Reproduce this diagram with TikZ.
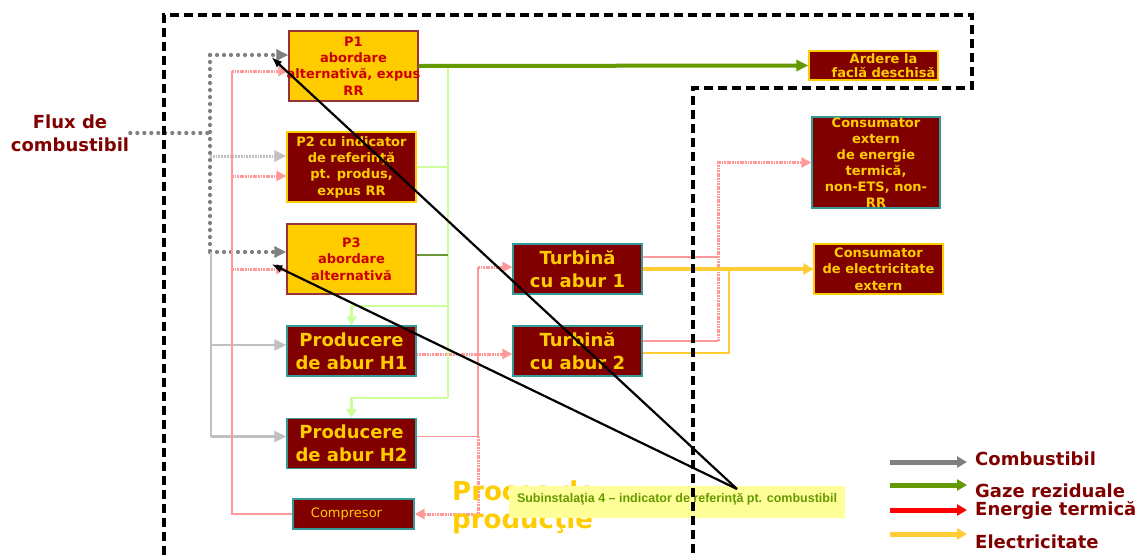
\documentclass[tikz,border=0pt]{standalone}
\usepackage{fontspec}
\setmainfont{DejaVu Sans}
\newfontfamily\notefont{Liberation Sans}
\usetikzlibrary{arrows.meta}
\usetikzlibrary{calc}

\definecolor{boxred}{HTML}{800000}
\definecolor{boxgold}{HTML}{FFCC00}
\definecolor{textred}{HTML}{CC0000}
\definecolor{edgered}{HTML}{993333}
\definecolor{edgeteal}{HTML}{339999}
\definecolor{heatpink}{HTML}{FF9999}
\definecolor{fuelgray}{HTML}{808080}
\definecolor{fuellight}{HTML}{C0C0C0}
\definecolor{gasgreen}{HTML}{669900}
\definecolor{residgreen}{HTML}{CCFF99}
\definecolor{residdark}{HTML}{669933}
\definecolor{elecyellow}{HTML}{FFCC33}
\definecolor{notefill}{HTML}{FFFF99}
\definecolor{heatred}{HTML}{FF0000}

\tikzset{
  boxbase/.style={line width=1.3pt, inner sep=0pt, align=center, font=\bfseries\fontsize{13}{16.3}\selectfont},
  altbox/.style={boxbase, draw=edgered, fill=boxgold, text=textred, minimum width=129pt, minimum height=70pt},
  refbox/.style={boxbase, draw=boxgold, fill=boxred, text=boxgold, minimum width=129pt, minimum height=70pt},
  unitbox/.style={boxbase, draw=edgeteal, fill=boxred, text=boxgold, minimum width=129pt, minimum height=50pt, font=\bfseries\fontsize{18}{23}\selectfont},
  outbox/.style={boxbase, fill=boxred, text=boxgold},
  fuel/.style={fuelgray, line width=4.2pt, line cap=round, dash pattern=on 0pt off 7pt},
  fuelfaint/.style={fuellight, line width=3pt, dash pattern=on 1.8pt off 1pt},
  fuelsolid/.style={fuellight, line width=2.3pt},
  fuelarrow/.style={-{Triangle[length=12pt,width=11pt]}},
  heatline/.style={heatpink, line width=1.8pt},
  heatdot/.style={heatpink, line width=3pt, dash pattern=on 1.8pt off 0.8pt},
  heatarrow/.style={-{Triangle[length=10pt,width=10pt]}},
  gas/.style={gasgreen, line width=4pt, -{Triangle[length=12pt,width=11pt]}},
  resid/.style={residgreen, line width=2.3pt},
  residarrow/.style={-{Triangle[length=9pt,width=10pt]}},
  elec/.style={elecyellow, line width=4.5pt, -{Triangle[length=10pt,width=11pt]}},
  electhin/.style={elecyellow, line width=1.8pt},
  boundary/.style={line width=3.3pt, dash pattern=on 9pt off 5pt},
  pointer/.style={black, line width=2.2pt, -{Latex[length=11pt,width=8pt]}},
  legendtext/.style={text=boxred, font=\bfseries\fontsize{18}{22}\selectfont, inner sep=0pt},
}

\begin{document}
\begin{tikzpicture}[x=1pt,y=-1pt]
\useasboundingbox (0,0) rectangle (1141,555);

% sub-installations
\node[altbox] (p1) at (353.5,66) {P1\\abordare\\\makebox[100pt]{alternativă, expus}\\RR};
\node[refbox] (p2) at (351.5,167) {P2 cu indicator\\de referinţă\\pt. produs,\\expus RR};
\node[altbox] (p3) at (351.5,259) {P3\\abordare\\alternativă};
\node[unitbox] (h1) at (351.5,351) {Producere\\de abur H1};
\node[unitbox] (h2) at (351.5,443.5) {Producere\\de abur H2};
\node[outbox, draw=edgeteal, minimum width=121pt, minimum height=30pt, font=\fontsize{13}{16}\selectfont] (comp) at (353.5,514) {Compresor\hspace*{14pt}};
\node[unitbox] (t1) at (577.5,269) {Turbină\\cu abur 1};
\node[unitbox] (t2) at (577.5,351) {Turbină\\cu abur 2};

% consumers outside
\node[outbox, draw=boxgold, minimum width=129pt, minimum height=29pt, font=\bfseries\fontsize{13}{14.5}\selectfont] (flare) at (873.5,65.5) {\hspace*{20pt}Ardere la\\\hspace*{20pt}faclă deschisă};
\node[outbox, draw=edgeteal, minimum width=128pt, minimum height=91pt, font=\bfseries\fontsize{13}{16}\selectfont] (heatcons) at (876,162.5) {Consumator\\extern\\de energie\\termică,\\non-ETS, non-\\RR};
\node[outbox, draw=boxgold, minimum width=129pt, minimum height=50pt, font=\bfseries\fontsize{13}{16.5}\selectfont] (elcons) at (878.5,269) {Consumator\\de electricitate\\extern};

\node[text=boxred, font=\bfseries\fontsize{18}{23}\selectfont, align=center, inner sep=1pt] (flux) at (70,133) {Flux de\\combustibil};

% fuel in
\coordinate (fueltop) at (210,55);
\coordinate (fuelbot) at (210,252);
\coordinate (p2fuel) at ([yshift=11pt]p2.west);
\draw[fuel] (flux.east) -- (flux.east -| fueltop);
\draw[fuel] (fueltop) -- (fuelbot);
\draw[fuel, fuelarrow] (fueltop) -- (fueltop -| p1.west);
\draw[fuel, fuelarrow] (fuelbot) -- (fuelbot -| p3.west);
\draw[fuelfaint, fuelarrow] (fueltop |- p2fuel) -- (p2fuel);

\coordinate (fuelline) at (211,252);
\coordinate (h1fuel) at ([yshift=6pt]h1.west);
\coordinate (h2fuel) at ([yshift=7pt]h2.west);
\draw[fuelsolid] (fuelline) -- (fuelline |- h2fuel);
\draw[fuelsolid, fuelarrow] (fuelline |- h1fuel) -- (h1fuel);
\draw[fuelsolid, fuelarrow] (fuelline |- h2fuel) -- (h2fuel);

% heat to P1..P3 from compresor
\coordinate (heatbus) at (232,0);
\coordinate (p1heat) at ([yshift=-5pt]p1.west);
\coordinate (p2heat) at ([yshift=-9pt]p2.west);
\coordinate (p3heat) at ([yshift=-10pt]p3.west);
\draw[heatline] (comp.west) -- (comp.west -| heatbus) -- (heatbus |- p1heat);
\foreach \n in {p1heat,p2heat,p3heat}
  \draw[heatdot, heatarrow] (heatbus |- \n) -- (\n);

% steam
\coordinate (h1out) at ([yshift=-3pt]h1.east);
\draw[heatdot, heatarrow] (h1out) -- (h1out -| t2.west);
\coordinate (steambus) at (478,0);
\coordinate (h2out) at ([yshift=7pt]h2.east);
\coordinate (t1in) at ([yshift=2pt]t1.west);
\draw[heatline] (h2out) -- (h2out -| steambus);
\draw[heatline] (steambus |- t1in) -- (steambus |- h2out);
\draw[heatdot] (steambus |- h2out) -- (steambus |- comp.east);
\draw[heatdot, heatarrow] (steambus |- t1in) -- (t1in);
\draw[heatdot, heatarrow] (steambus |- comp.east) -- (comp.east);

% heat export
\coordinate (exportbus) at (718,0);
\coordinate (t1out) at ([yshift=12pt]t1.east);
\coordinate (t2out) at ([yshift=10pt]t2.east);
\draw[heatline] (t1out) -- (t1out -| exportbus);
\draw[heatline] (t2out) -- (t2out -| exportbus);
\draw[heatdot, heatarrow] (t2out -| exportbus) -- (exportbus |- heatcons.west) -- (heatcons.west);

% electricity
\coordinate (elecbus) at (729,0);
\coordinate (t2el) at ([yshift=-2pt]t2.east);
\draw[electhin] (t2el) -- (t2el -| elecbus) -- (elecbus |- t1.east);
\draw[elec] (t1.east) -- (elcons.west);

% waste gas
\coordinate (resid1) at (448,306);
\coordinate (resid2) at (448,398);
\coordinate (p3gas) at ([yshift=4pt]p3.east);
\draw[resid] (resid1 |- p1.east) -- (resid2);
\draw[resid] (p2.east) -- (p2.east -| resid1);
\draw[residdark, line width=1.4pt] (p3gas) -- (p3gas -| resid1);
\draw[resid, residarrow] (resid1) -- (resid1 -| h1.north) -- (h1.north);
\draw[resid, residarrow] (resid2) -- (resid2 -| h2.north) -- (h2.north);
\draw[gas] (p1.east) -- (flare.west);

\node[anchor=west, align=left, text=boxgold, inner sep=0pt, font=\bfseries\fontsize{26}{28}\selectfont] (proces) at (452,507) {Proces de\\producţie};

% callout
\node[fill=notefill, minimum width=336pt, minimum height=32pt, inner sep=0pt, text=gasgreen, text height=9pt, text depth=9pt, font=\notefont\bfseries\fontsize{12.5}{14}\selectfont] (note) at (677,502) {Subinstalaţia 4 – indicator de referinţă pt. combustibil};

\draw[boundary] (164,555) -- (164,15) -- (972,15) -- (972,88) -- (693,88) -- (693,555);

\coordinate (notetip) at (737,489);
\draw[pointer] (notetip) -- ([xshift=-17pt,yshift=9pt]p1.west);
\draw[pointer] (notetip) -- ([xshift=-15pt,yshift=-5pt]p3.west);

% legend
\foreach \i/\col/\ay/\ly/\txt in {1/fuelgray/462/465/Combustibil, 2/gasgreen/485/497/Gaze reziduale, 3/heatred/510/515/Energie termică, 4/elecyellow/534/548/Electricitate} {
  \node[legendtext, anchor=base west] (leg\i) at (975,\ly) {\txt};
  \coordinate (legstart\i) at (890,\ay);
  \draw[\col, line width=5pt, -{Triangle[length=10pt,width=11pt]}, shorten >=8pt] (legstart\i) -- (legstart\i -| leg\i.west);
}
\end{tikzpicture}
\end{document}
